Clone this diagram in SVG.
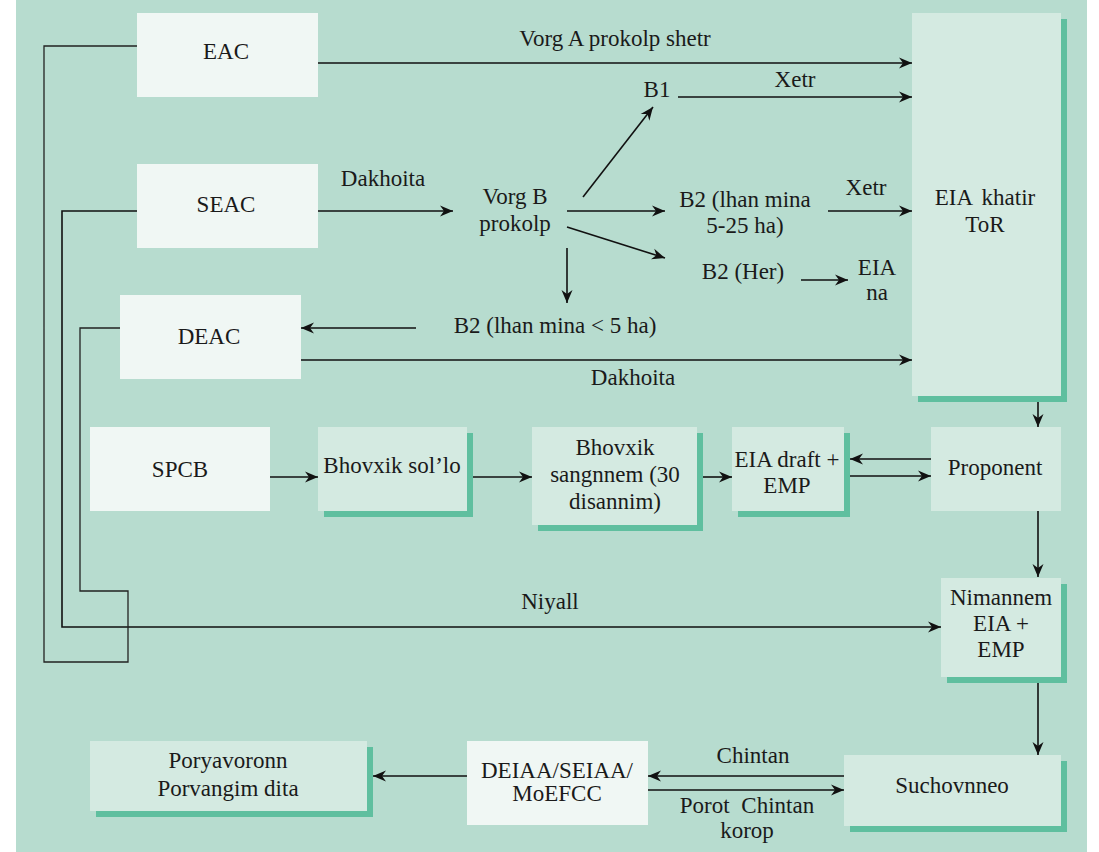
<svg xmlns="http://www.w3.org/2000/svg" width="1099" height="852" viewBox="0 0 1099 852" font-family="Liberation Serif, DejaVu Serif, Noto Serif, serif">
<defs>
<style>
text{font-size:23px;fill:#1a1a1a;text-anchor:middle}
.w{fill:#f0f7f4}
.l{fill:#d4eae1}
.s{fill:#5fbf9f}
.c{fill:none;stroke:#111;stroke-width:1.6}
.t{fill:none;stroke:#222;stroke-width:1.3}
</style>
<marker id="a" markerWidth="14" markerHeight="12" refX="13" refY="6" orient="auto" markerUnits="userSpaceOnUse">
<path d="M0,0.5 L13,6 L0,11.5 L4,6 z" fill="#111"/>
</marker>
</defs>
<rect x="0" y="0" width="1099" height="852" fill="#ffffff"/>
<rect x="16" y="0" width="1071" height="852" fill="#b7dccf"/>

<g id="connectors">
<line class="c" x1="318" y1="63" x2="912" y2="63" marker-end="url(#a)"/>
<line class="c" x1="678" y1="97" x2="912" y2="97" marker-end="url(#a)"/>
<line class="c" x1="318" y1="211" x2="453" y2="211" marker-end="url(#a)"/>
<line class="c" x1="583" y1="197" x2="653" y2="107" marker-end="url(#a)"/>
<line class="c" x1="567" y1="211" x2="665" y2="211" marker-end="url(#a)"/>
<line class="c" x1="567" y1="227" x2="665" y2="258" marker-end="url(#a)"/>
<line class="c" x1="567" y1="248" x2="567" y2="303" marker-end="url(#a)"/>
<line class="c" x1="828" y1="211" x2="912" y2="211" marker-end="url(#a)"/>
<line class="c" x1="801" y1="280" x2="848" y2="280" marker-end="url(#a)"/>
<line class="c" x1="416" y1="328" x2="301" y2="328" marker-end="url(#a)"/>
<line class="c" x1="301" y1="360" x2="912" y2="360" marker-end="url(#a)"/>
<line class="c" x1="1038" y1="402" x2="1038" y2="427" marker-end="url(#a)"/>
<line class="c" x1="270" y1="477" x2="318" y2="477" marker-end="url(#a)"/>
<line class="c" x1="473" y1="477" x2="532" y2="477" marker-end="url(#a)"/>
<line class="c" x1="703" y1="477" x2="732" y2="477" marker-end="url(#a)"/>
<line class="c" x1="931" y1="459" x2="850" y2="459" marker-end="url(#a)"/>
<line class="c" x1="850" y1="476" x2="931" y2="476" marker-end="url(#a)"/>
<line class="c" x1="1038" y1="511" x2="1038" y2="577" marker-end="url(#a)"/>
<polyline class="c" points="137,211 62,211 62,627 941,627" marker-end="url(#a)"/>
<polyline class="t" points="137,46 44,46 44,662 128,662 128,591 80,591 80,328 120,328"/>
<line class="c" x1="1038" y1="683" x2="1038" y2="755" marker-end="url(#a)"/>
<line class="c" x1="844" y1="776" x2="648" y2="776" marker-end="url(#a)"/>
<line class="c" x1="648" y1="790" x2="844" y2="790" marker-end="url(#a)"/>
<line class="c" x1="467" y1="776" x2="373" y2="776" marker-end="url(#a)"/>
</g>

<g id="labels">
<text x="615" y="46">Vorg A prokolp shetr</text>
<text x="795" y="87">Xetr</text>
<text x="383" y="186">Dakhoita</text>
<text x="866" y="195">Xetr</text>
<text x="633" y="385">Dakhoita</text>
<text x="550" y="609">Niyall</text>
<text x="753" y="763">Chintan</text>
<text x="747" y="813" word-spacing="6">Porot Chintan</text>
<text x="747" y="838">korop</text>
</g>

<g id="eac"><rect class="w" x="137" y="13" width="181" height="84"/><text x="226" y="59">EAC</text></g>
<g id="seac"><rect class="w" x="137" y="164" width="181" height="84"/><text x="226" y="212">SEAC</text></g>
<g id="deac"><rect class="w" x="120" y="295" width="181" height="84"/><text x="209" y="344">DEAC</text></g>
<g id="vorgb"><text x="515" y="204">Vorg B</text><text x="515" y="231">prokolp</text></g>
<g id="b1"><text x="657" y="97">B1</text></g>
<g id="b2a"><text x="745" y="207">B2 (lhan mina</text><text x="745" y="233">5-25 ha)</text></g>
<g id="b2her"><text x="743" y="279">B2 (Her)</text></g>
<g id="eiana"><text x="877" y="275">EIA</text><text x="877" y="300">na</text></g>
<g id="b2c"><text x="555" y="333">B2 (lhan mina &lt; 5 ha)</text></g>
<g id="eiator"><rect class="s" x="918" y="19" width="149" height="383"/><rect class="l" x="912" y="13" width="149" height="383"/><text x="985" y="205" word-spacing="4" font-size="24">EIA khatir</text><text x="985" y="232" font-size="24">ToR</text></g>
<g id="spcb"><rect class="w" x="90" y="427" width="180" height="84"/><text x="180" y="477" font-size="25">SPCB</text></g>
<g id="solo"><rect class="s" x="324" y="433" width="149" height="84"/><rect class="l" x="318" y="427" width="149" height="84"/><text x="392" y="473">Bhovxik sol’lo</text></g>
<g id="sangnnem"><rect class="s" x="538" y="433" width="165" height="98"/><rect class="l" x="532" y="427" width="165" height="98"/><text x="615" y="455">Bhovxik</text><text x="615" y="482">sangnnem (30</text><text x="615" y="509">disannim)</text></g>
<g id="eiadraft"><rect class="s" x="738" y="433" width="112" height="84"/><rect class="l" x="732" y="427" width="112" height="84"/><text x="787" y="467">EIA draft +</text><text x="787" y="493">EMP</text></g>
<g id="proponent"><rect class="l" x="931" y="427" width="130" height="84"/><text x="995" y="475">Proponent</text></g>
<g id="nimannem"><rect class="s" x="947" y="584" width="120" height="99"/><rect class="l" x="941" y="578" width="120" height="99"/><text x="1001" y="605">Nimannem</text><text x="1001" y="631">EIA +</text><text x="1001" y="657">EMP</text></g>
<g id="suchovnneo"><rect class="s" x="850" y="761" width="217" height="71"/><rect class="l" x="844" y="755" width="217" height="71"/><text x="952" y="793">Suchovnneo</text></g>
<g id="deiaa"><rect class="w" x="467" y="741" width="181" height="84"/><text x="557" y="778">DEIAA/SEIAA/</text><text x="557" y="801">MoEFCC</text></g>
<g id="porya"><rect class="s" x="96" y="747" width="277" height="70"/><rect class="l" x="90" y="741" width="277" height="70"/><text x="228" y="768">Poryavoronn</text><text x="228" y="796">Porvangim dita</text></g>
</svg>
